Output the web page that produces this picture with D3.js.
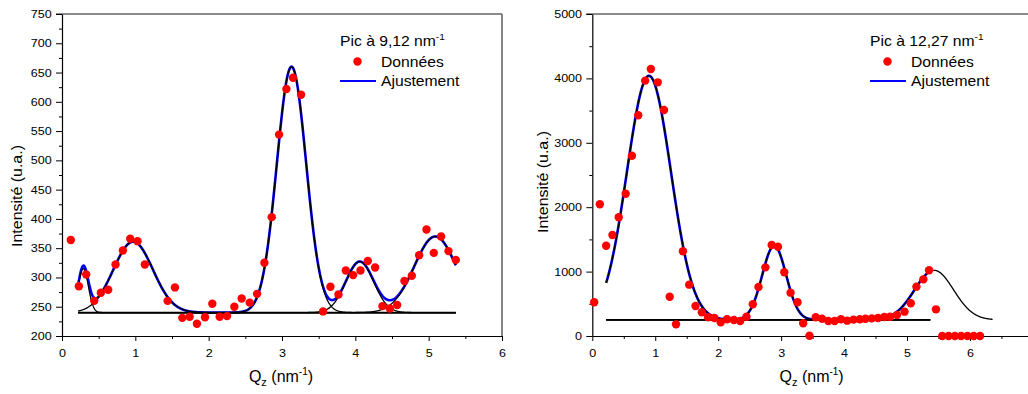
<!DOCTYPE html>
<html><head><meta charset="utf-8">
<script src="https://cdn.jsdelivr.net/npm/d3@7"></script>
<style>
body{margin:0;background:#fff}
svg{display:block}
text{font-family:"Liberation Sans",Arial,sans-serif;fill:#000}
</style>
</head><body>
<svg id="c" width="1028" height="394"></svg>
<script>
// ---------- Left panel data (Pic à 9,12 nm-1) ----------
const leftQ = [0.12,0.23,0.33,0.44,0.53,0.63,0.73,0.83,0.93,1.03,1.13,1.44,1.54,1.64,1.74,1.84,1.95,2.05,2.15,2.25,2.35,2.45,2.56,2.66,2.76,2.86,2.96,3.06,3.15,3.26,3.56,3.66,3.77,3.87,3.97,4.07,4.17,4.27,4.37,4.47,4.57,4.67,4.77,4.87,4.97,5.07,5.17,5.27,5.37];
const leftI = [364,285,305,260,274,279,322,346,366,362,322,260,283,231,233,221,232,255,233,234,250,264,257,272,325,403,544,622,641,612,242,284,271,312,304,312,328,317,251,247,253,294,303,338,382,342,370,345,330];
const leftBaseline = 240;
const leftPeakCenters = [0.29,0.97,3.13,4.06,5.09];
const leftPeakAmps = [75,121,420,87,130];
const leftPeakSigmas = [0.069,0.27,0.2,0.19,0.287];
const leftPeakEnds = [5.37,5.37,5.37,5.37,5.37];
const leftFitRange = [0.22,5.37];
const leftXTicks = [0,1,2,3,4,5,6];
const leftXMinor = [0.5,1.5,2.5,3.5,4.5,5.5];
const leftYTicks = [200,250,300,350,400,450,500,550,600,650,700,750];
const leftYMinor = [225,275,325,375,425,475,525,575,625,675,725];
const leftTitle = "Pic à 9,12 nm";

// ---------- Right panel data (Pic à 12,27 nm-1) ----------
const rightQ = [0.03,0.12,0.22,0.32,0.42,0.53,0.63,0.73,0.84,0.93,1.04,1.14,1.23,1.33,1.44,1.54,1.64,1.74,1.84,1.94,2.04,2.14,2.25,2.35,2.45,2.55,2.64,2.75,2.85,2.95,3.05,3.15,3.26,3.35,3.45,3.55,3.65,3.75,3.85,3.95,4.05,4.15,4.25,4.34,4.44,4.54,4.64,4.73,4.84,4.96,5.06,5.15,5.26,5.35,5.46,5.56,5.66,5.76,5.86,5.96,6.06,6.16];
const rightI = [523,2045,1402,1568,1843,2210,2800,3427,3965,4146,3939,3509,610,181,1315,797,466,368,290,280,212,259,248,233,300,492,760,1066,1413,1387,989,673,523,197,5,290,269,233,233,259,238,254,259,269,274,280,295,300,326,378,508,766,880,1020,414,0,0,0,0,0,0,0];
const rightBaseline = 250;
const rightPeakCenters = [0.9,2.89,5.43];
const rightPeakAmps = [3790,1150,770];
const rightPeakSigmas = [0.35,0.19,0.31];
const rightPeakEnds = [5.37,5.37,6.36];
const rightFitRange = [0.22,5.37];
const rightXTicks = [0,1,2,3,4,5,6];
const rightXMinor = [0.5,1.5,2.5,3.5,4.5,5.5,6.5];
const rightYTicks = [0,1000,2000,3000,4000,5000];
const rightYMinor = [500,1500,2500,3500,4500];
const rightTitle = "Pic à 12,27 nm";

const legendLabels = ["Données","Ajustement"];

const svg = d3.select("#c");
const TICK_SX = 1.14, LEG_SX = 1.12;

function drawPanel(cfg){
  const x = d3.scaleLinear().domain(cfg.xDomain).range(cfg.xRange);
  const y = d3.scaleLinear().domain(cfg.yDomain).range([336,14]);
  const g = svg.append("g");

  // frame top/right
  g.append("line").attr("x1",x.range()[0]-6).attr("x2",x.range()[1]).attr("y1",y.range()[1]).attr("y2",y.range()[1])
    .attr("stroke","#666").attr("stroke-width",1.6);
  g.append("line").attr("x1",x.range()[1]).attr("x2",x.range()[1]).attr("y1",y.range()[1]).attr("y2",y.range()[0])
    .attr("stroke","#666").attr("stroke-width",1.6);

  // minor ticks
  g.append("g").attr("transform",`translate(${x.range()[0]},0)`)
    .call(d3.axisLeft(y).tickValues(cfg.yMinor).tickSize(3).tickFormat(""))
    .call(a=>a.select(".domain").remove())
    .call(a=>a.selectAll("line").attr("stroke","#000"));
  g.append("g").attr("transform",`translate(0,336)`)
    .call(d3.axisBottom(x).tickValues(cfg.xMinor).tickSize(3).tickFormat(""))
    .call(a=>a.select(".domain").remove())
    .call(a=>a.selectAll("line").attr("stroke","#000"));

  // major axes
  const ay = g.append("g").attr("transform",`translate(${x.range()[0]},0)`)
    .call(d3.axisLeft(y).tickValues(cfg.yTicks).tickSize(6).tickSizeOuter(0).tickPadding(3).tickFormat(d3.format("d")));
  const ax = g.append("g").attr("transform",`translate(0,336)`)
    .call(d3.axisBottom(x).tickValues(cfg.xTicks).tickSize(5).tickSizeOuter(0).tickPadding(8).tickFormat(d3.format("d")));
  [ay,ax].forEach(a=>{
    a.attr("font-family",null).attr("font-size",null);
    a.select(".domain").attr("stroke","#000").attr("stroke-width",1.2);
    a.selectAll(".tick line").attr("stroke","#000");
    a.selectAll("text").attr("font-size",11).attr("fill","#000")
      .attr("transform",`scale(${TICK_SX},1)`);
  });

  // components
  const line = d3.line().x(d=>x(d[0])).y(d=>y(d[1]));
  const gauss = (q,i)=>cfg.amps[i]*Math.exp(-Math.pow(q-cfg.centers[i],2)/(2*cfg.sigmas[i]*cfg.sigmas[i]));
  const step = 0.005;
  // cumulative fit (blue)
  const qs = d3.range(cfg.fitRange[0], cfg.fitRange[1]+1e-9, step);
  g.append("path").attr("d", line(qs.map(q=>[q, cfg.base + d3.sum(cfg.centers,(c,i)=>gauss(q,i))])))
    .attr("fill","none").attr("stroke","#0000ff").attr("stroke-width",2.6);
  // baseline
  g.append("path").attr("d", line([[cfg.fitRange[0],cfg.base],[cfg.fitRange[1],cfg.base]]))
    .attr("fill","none").attr("stroke","#000").attr("stroke-width",1.6);
  // individual peaks (black)
  cfg.centers.forEach((c,i)=>{
    const qq = d3.range(cfg.fitRange[0], cfg.ends[i]+1e-9, step);
    g.append("path").attr("d", line(qq.map(q=>[q, cfg.base + gauss(q,i)])))
      .attr("fill","none").attr("stroke","#000").attr("stroke-width",1.3);
  });

  // data points
  g.append("g").selectAll("circle").data(cfg.q.map((q,i)=>[q,cfg.I[i]])).join("circle")
    .attr("cx",d=>x(d[0])).attr("cy",d=>y(d[1])).attr("r",4.2).attr("fill","#ff0000");

  // y title
  g.append("text").attr("text-anchor","middle").attr("font-size",14)
    .attr("transform",`translate(${cfg.yTitleX},${cfg.yTitleY}) rotate(-90) scale(1.14,1)`)
    .text("Intensité (u.a.)");

  // x title
  const cx = (x.range()[0]+x.range()[1])/2 - 1;
  const xt = g.append("text").attr("text-anchor","middle").attr("font-size",16)
    .attr("transform",`translate(${cx},382)`);
  xt.append("tspan").text("Q");
  xt.append("tspan").attr("font-size",11).attr("dy",4).text("z");
  xt.append("tspan").attr("dy",-4).text(" (nm");
  xt.append("tspan").attr("font-size",10).attr("dy",-7).text("-1");
  xt.append("tspan").attr("dy",7).text(")");

  // legend
  const L = cfg.legend;
  const lt = g.append("text").attr("font-size",14).attr("transform",`translate(${L.x},46) scale(${LEG_SX},1)`);
  lt.append("tspan").text(cfg.title);
  lt.append("tspan").attr("font-size",9).attr("dy",-6).text("-1");
  g.append("circle").attr("cx",L.x+17.5).attr("cy",61.5).attr("r",4.2).attr("fill","#ff0000");
  g.append("text").attr("font-size",14).attr("transform",`translate(${L.x+41},66.5) scale(${LEG_SX},1)`).text(legendLabels[0]);
  g.append("line").attr("x1",L.x).attr("x2",L.x+36).attr("y1",81).attr("y2",81).attr("stroke","#0000ff").attr("stroke-width",2);
  g.append("text").attr("font-size",14).attr("transform",`translate(${L.x+41},86) scale(${LEG_SX},1)`).text(legendLabels[1]);
}

drawPanel({xDomain:[0,6], xRange:[62,502], yDomain:[200,750],
  xTicks:leftXTicks, xMinor:leftXMinor, yTicks:leftYTicks, yMinor:leftYMinor,
  q:leftQ, I:leftI, base:leftBaseline, centers:leftPeakCenters, amps:leftPeakAmps, sigmas:leftPeakSigmas,
  ends:leftPeakEnds, fitRange:leftFitRange, title:leftTitle, legend:{x:340}, yTitleX:22, yTitleY:196});

drawPanel({xDomain:[0,7], xRange:[592.3,1032.9], yDomain:[0,5000],
  xTicks:rightXTicks, xMinor:rightXMinor, yTicks:rightYTicks, yMinor:rightYMinor,
  q:rightQ, I:rightI, base:rightBaseline, centers:rightPeakCenters, amps:rightPeakAmps, sigmas:rightPeakSigmas,
  ends:rightPeakEnds, fitRange:rightFitRange, title:rightTitle, legend:{x:870}, yTitleX:548, yTitleY:182});
</script>
</body></html>
